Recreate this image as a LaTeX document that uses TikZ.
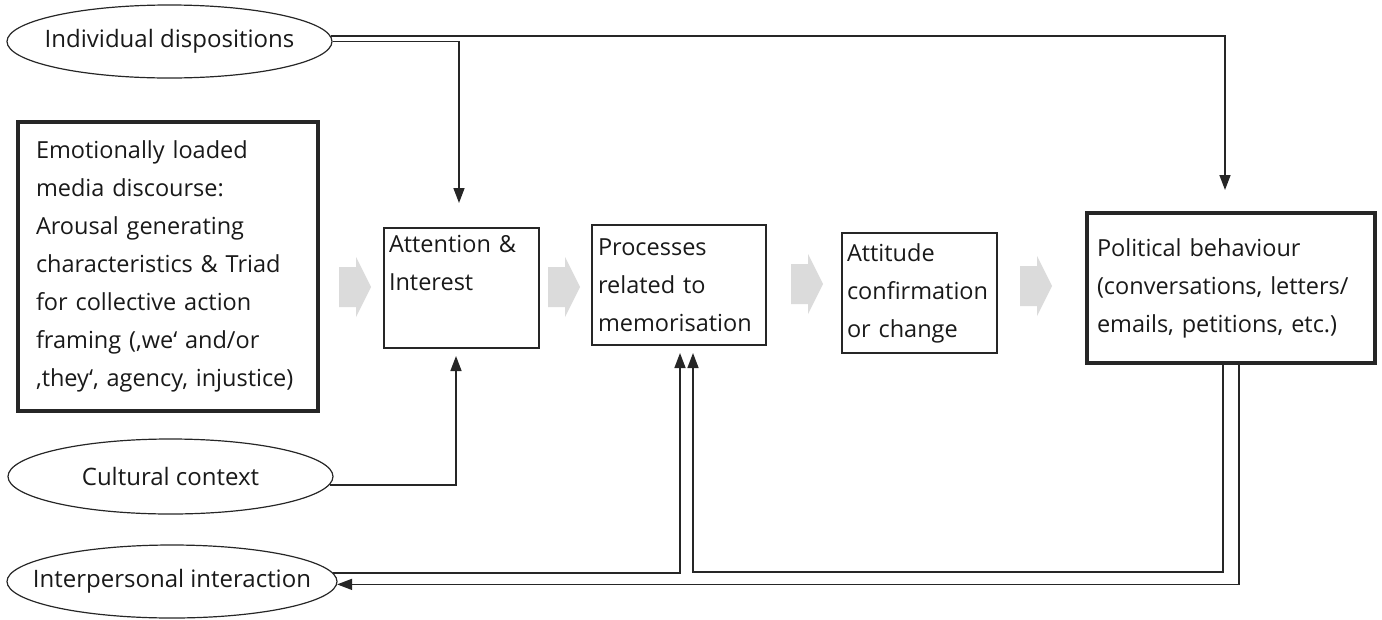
\documentclass[tikz,border=0pt]{standalone}
\usepackage{fontspec}
\setmainfont{Open Sans}
\usetikzlibrary{arrows.meta,shapes.geometric}
\hyphenpenalty=10000
\exhyphenpenalty=10000

\begin{document}
\begin{tikzpicture}[x=1pt,y=-1pt]
\tikzset{every node/.style={font=\fontsize{23.5}{38}\selectfont, text=black!90}}
\tikzset{factor/.style={draw=black!85, line width=1.2pt, ellipse, inner xsep=-30pt, inner ysep=0pt, font=\fontsize{24}{38}\selectfont}}
\tikzset{stagebox/.style={draw=black!85, line width=1.5pt, rectangle, align=left, inner xsep=5pt, inner ysep=0pt, minimum height=120pt}}
\tikzset{mainbox/.style={stagebox, line width=4pt}}
\tikzset{conn/.style={draw=black!85, line width=1.5pt, -{Triangle[length=15pt,width=11pt]}}}
\tikzset{flow/.style={fill=black!14}}

\useasboundingbox (0,0) rectangle (1382,619);

% influencing factors
\node[factor, minimum width=325pt, minimum height=73pt] (indiv) at (169.5,41.5) {Individual dispositions};
\node[factor, minimum width=325pt, minimum height=75pt] (cult) at (170.5,476.5) {Cultural context};
\node[factor, minimum width=330pt, minimum height=73pt] (inter) at (172,581.5) {Interpersonal interaction};

% stages
\node[mainbox, text width=264pt, inner xsep=18pt, minimum height=289pt] (media) at (168,266.5) {Emotionally loaded\\media discourse:\\Arousal generating\\characteristics \& Triad\\for collective action\\framing (‚we‘ and/or\\‚they‘, agency, injustice)};
\node[stagebox, text width=145pt] (attn) at (461.5,288) {Attention \&\\Interest\\\strut};
\node[stagebox, text width=162pt, inner xsep=6pt] (proc) at (679,285) {Processes\\related to\\memorisation};
\node[stagebox, text width=145pt] (att) at (919.5,293) {Attitude\\confirmation\\or change};
\node[mainbox, text width=268pt, inner xsep=10pt, minimum height=150pt] (pol) at (1231,288) {Political behaviour\\(conversations, letters/\\emails, petitions, etc.)};

% grey flow arrows
\foreach \x/\y in {339/287, 548/287, 791/284, 1020/286}
  \fill[flow] (\x,\y-20) -- ++(17,0) -- ++(0,-10) -- ++(15,30) -- ++(-15,30) -- ++(0,-10) -- ++(-17,0) -- cycle;

% free arrow ends
\coordinate (polin) at (1225,190);
\coordinate (attnin) at (459,203);
\coordinate (attnup) at (456,356);
\coordinate (procup1) at (680,353);
\coordinate (procup2) at (693,353);
\coordinate (procfoot) at (693,572);

\draw[conn] (indiv.2) -| (polin);
\draw[conn] (indiv.east) -| (attnin);
\draw[conn] (cult.-3) -| (attnup);
\draw[conn] (inter.3.5) -| (procup1);
\draw[conn] ([xshift=-8pt]pol.south) |- (procfoot) -- (procup2);
\draw[conn] ([xshift=8pt]pol.south) |- (inter.-1);
\end{tikzpicture}
\end{document}
